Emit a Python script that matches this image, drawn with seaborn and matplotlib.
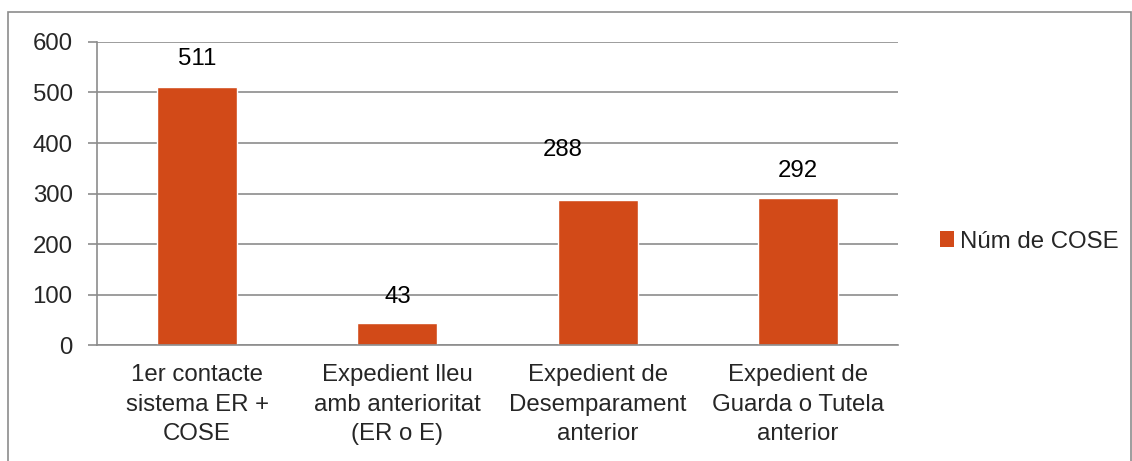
import numpy as np
import seaborn as sns
import matplotlib.pyplot as plt
from matplotlib.patches import Patch, Rectangle

categories = ["1er contacte\nsistema ER +\nCOSE",
              "Expedient lleu\namb anterioritat\n(ER o E)",
              "Expedient de\nDesemparament\nanterior",
              "Expedient de\nGuarda o Tutela\nanterior"]
values = [511, 43, 288, 292]
series_name = "Núm de COSE"
# label offsets in points (dx, dy), as placed in the original
label_offsets = [(0, 20), (0, 19), (-25, 36), (0, 19)]

bar_color = "#D24A18"
grid_color = "#8C8C8C"
fs = 17.3

sns.set_style("white")
plt.rcParams['font.family'] = ['Liberation Sans', 'DejaVu Sans']
plt.rcParams['font.size'] = fs

fig = plt.figure(figsize=(11.32, 4.61), dpi=100)
ax = fig.add_axes([0.0857, 0.2516, 0.7076, 0.6573])

sns.barplot(x=list(range(len(values))), y=values, color=bar_color, width=0.4,
            saturation=1, ax=ax, label=series_name)

# data labels
for i, (v, off) in enumerate(zip(values, label_offsets)):
    ax.annotate(str(v), xy=(i, v), xytext=off, textcoords="offset points",
                ha="center", va="center", fontsize=fs, color="black")

ax.set_ylim(0, 600)
ax.set_yticks(np.arange(0, 601, 100))
ax.set_xlim(-0.5, len(values) - 0.5)
ax.set_xticks(range(len(values)))
ax.set_xticklabels(categories, linespacing=1.42)
ax.set_xticks(np.arange(-0.5, len(values), 1), minor=True)
ax.tick_params(axis="x", which="major", length=0, pad=14)
ax.tick_params(axis="x", which="minor", length=6.5, width=1.2, color=grid_color)
ax.tick_params(axis="y", length=6.5, width=1.2, color=grid_color, pad=11, left=True)
ax.set_xlabel("")
ax.set_ylabel("")

ax.grid(axis="y", color=grid_color, linewidth=1.2)
ax.set_axisbelow(True)
for s in ["top", "right"]:
    ax.spines[s].set_visible(False)
for s in ["left", "bottom"]:
    ax.spines[s].set_color(grid_color)
    ax.spines[s].set_linewidth(1.2)
    ax.spines[s].set_zorder(3)

handles = [Patch(facecolor=bar_color, edgecolor="none", label=series_name)]
ax.legend(handles=handles, loc="center left", bbox_to_anchor=(0.811, 0.476),
          bbox_transform=fig.transFigure, frameon=False, handlelength=0.6,
          handleheight=0.6, handletextpad=0.25, fontsize=fs)

# outer chart frame
fig.patches.append(Rectangle((0.007, -0.05), 0.992, 1.024, transform=fig.transFigure,
                             fill=False, edgecolor=grid_color, linewidth=1.2))

fig.savefig("out.png", dpi=100)
